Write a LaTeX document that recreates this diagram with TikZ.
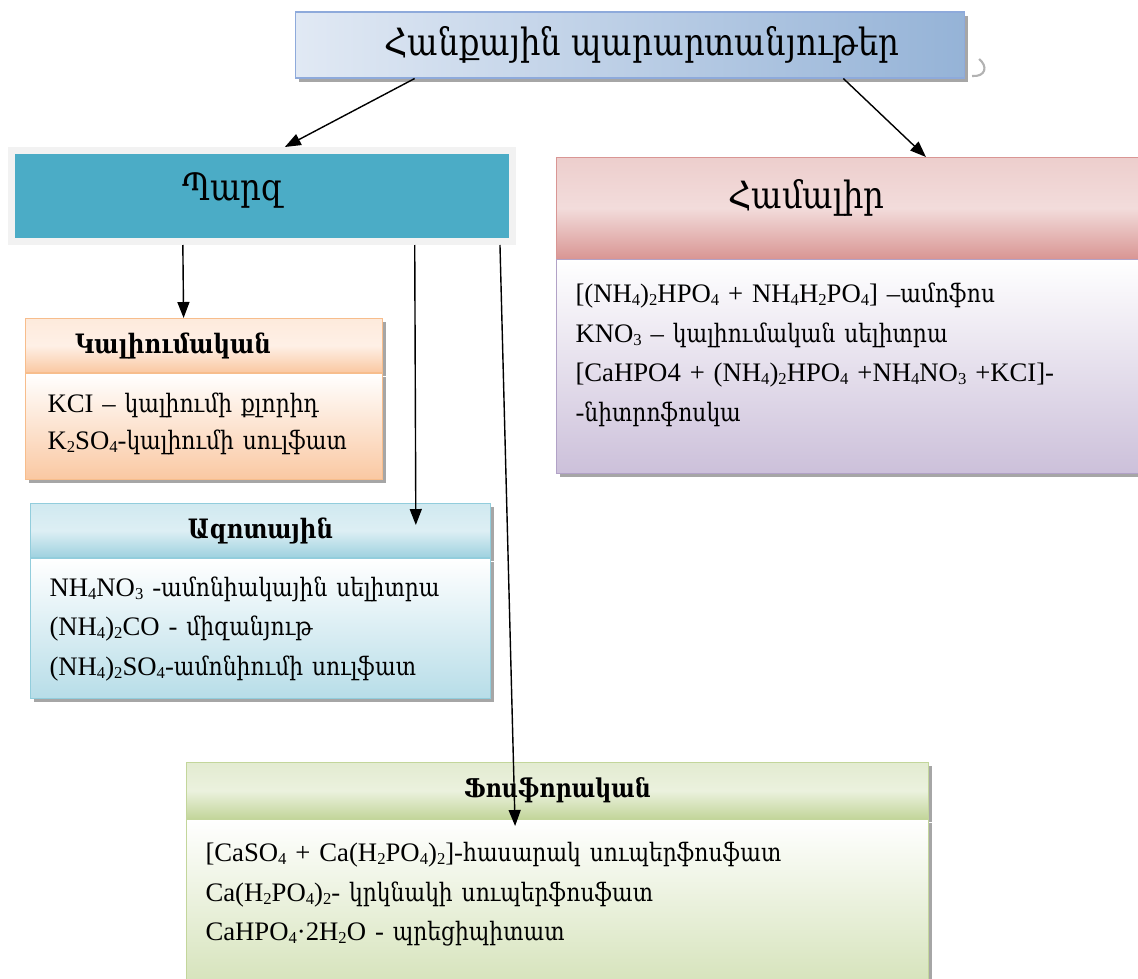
\documentclass[tikz,border=0pt]{standalone}
\usepackage{fontspec}
\setmainfont{Liberation Serif}
\newfontfamily\armfont[Scale=0.95, FakeStretch=0.86]{DejaVu Serif}
\newcommand{\hy}[1]{{\armfont #1}}
\newcommand{\sub}[1]{\raisebox{-0.25ex}{\fontsize{9.5}{9.5}\selectfont #1}}
\usetikzlibrary{arrows.meta,calc,positioning,shadows}

\definecolor{titleleft}{HTML}{E1E9F4}
\definecolor{titleright}{HTML}{95B3D7}
\definecolor{titleline}{HTML}{8EAADB}
\definecolor{parzblue}{HTML}{4BACC6}
\definecolor{hamdark}{HTML}{D99694}
\definecolor{hamlight}{HTML}{F2DCDB}
\definecolor{hambody}{HTML}{CCC0DA}
\definecolor{hamline}{HTML}{B2A2C7}
\definecolor{kaldark}{HTML}{FAC8A2}
\definecolor{kallight}{HTML}{FEF0E6}
\definecolor{kalline}{HTML}{F7BD8C}
\definecolor{azdark}{HTML}{9ED1DF}
\definecolor{azlight}{HTML}{DDEFF4}
\definecolor{azbody}{HTML}{B7DDE8}
\definecolor{azline}{HTML}{92CDDC}
\definecolor{fodark}{HTML}{C3D69B}
\definecolor{folight}{HTML}{EBF1DE}
\definecolor{fobody}{HTML}{D7E4BD}

\begin{document}
\begin{tikzpicture}[x=0.02cm, y=-0.02cm]

    \tikzstyle{boxshadow}=[drop shadow={shadow xshift=0.07cm, shadow yshift=-0.07cm, fill=black!35, opacity=1}]
    \tikzstyle{head}=[rectangle, anchor=north west, inner sep=0pt, line width=0.6pt, boxshadow,
                      font=\bfseries\fontsize{16}{18}\selectfont]
    \tikzstyle{body}=[rectangle, inner ysep=0pt, inner xsep=0.38cm, align=left, line width=0.6pt,
                      top color=white, boxshadow, font=\fontsize{15.2}{22.5}\selectfont]
    \tikzstyle{arrow}=[-{Triangle[length=0.32cm, width=0.24cm]}, line width=0.8pt]

    \useasboundingbox (0,0) rectangle (1138,978);

    % top of the tree
    \node[rectangle, minimum width=13.4cm, minimum height=1.32cm, left color=titleleft,
          right color=titleright, draw=titleline, line width=0.6pt, boxshadow,
          font=\fontsize{22.5}{28}\selectfont] (title) at (630,45) {\hspace*{0.48cm}\hy{Հանքային պարարտանյութեր}};
    \draw[black!30, line width=1.2pt] (979,59) .. controls (988,66) and (986,77) .. (972,76);

    \node[rectangle, minimum width=10.01cm, minimum height=1.82cm, fill=parzblue, draw=black!5,
          line width=0.14cm, boxshadow, text height=0.5cm, text depth=0.34cm,
          font=\fontsize{22.5}{26}\selectfont] (parz) at (262,196) {\hy{Պարզ}\hspace*{1.16cm}};

    \node[head, minimum width=11.8cm, minimum height=2.02cm, top color=hamlight!80!hamdark, bottom color=hamdark,
          middle color=hamlight, draw=hamdark, text height=0.5cm, text depth=0.5cm,
          font=\fontsize{22.5}{26}\selectfont] (hamhead) at (556,157) {\hy{Համալիր}\hspace*{1.8cm}};
    \node[body, below=0pt of hamhead, minimum width=11.8cm, minimum height=4.28cm, text width=11.04cm,
          bottom color=hambody, draw=hamline] (hambody)
          {[(NH\sub4)\sub2HPO\sub4 + NH\sub4H\sub2PO\sub4] –\hy{ամոֆոս}\\
           KNO\sub3 – \hy{կալիումական սելիտրա}\\{}%
           [CaHPO4 + (NH\sub4)\sub2HPO\sub4 +NH\sub4NO\sub3 +KCI]-\\
           -\hy{նիտրոֆոսկա}\rule[-0.58cm]{0pt}{0.1cm}};

    % simple fertilizers
    \node[head, minimum width=7.14cm, minimum height=1.08cm, top color=kallight!85!kaldark, bottom color=kaldark,
          middle color=kallight, draw=kalline] (kalhead) at (25,318) {\hy{Կալիումական}\hspace*{1.24cm}};
    \node[body, below=0pt of kalhead, minimum width=7.14cm, minimum height=2.12cm, text width=6.26cm,
          inner xsep=0.44cm, bottom color=kaldark, draw=kalline, font=\fontsize{15.2}{21}\selectfont] (kalbody)
          {KCI – \hy{կալիումի քլորիդ}\\
           K\sub2SO\sub4-\hy{կալիումի սուլֆատ}\rule[-0.2cm]{0pt}{0.1cm}};

    \node[head, minimum width=9.2cm, minimum height=1.08cm, top color=azlight!80!azdark, bottom color=azdark,
          middle color=azlight, draw=azline] (azhead) at (30,503) {\hy{Ազոտային}};
    \node[body, below=0pt of azhead, minimum width=9.2cm, minimum height=2.8cm, text width=8.44cm,
          bottom color=azbody, draw=azline] (azbody)
          {NH\sub4NO\sub3 -\hy{ամոնիակային սելիտրա}\\
           (NH\sub4)\sub2CO - \hy{միզանյութ}\\
           (NH\sub4)\sub2SO\sub4-\hy{ամոնիումի սուլֆատ}};

    \node[head, minimum width=14.84cm, minimum height=1.12cm, top color=folight!80!fodark, bottom color=fodark,
          middle color=folight, draw=fodark, font=\bfseries\fontsize{15.5}{18}\selectfont] (fohead) at (186,762)
          {\hy{Ֆոսֆորական}};
    \node[body, below=0pt of fohead, minimum width=14.84cm, minimum height=3.2cm, text width=14.08cm,
          bottom color=fobody, draw=fodark] (fobody)
          {[CaSO\sub4 + Ca(H\sub2PO\sub4)\sub2]-\hy{հասարակ սուպերֆոսֆատ}\\
           Ca(H\sub2PO\sub4)\sub2- \hy{կրկնակի սուպերֆոսֆատ}\\
           CaHPO\sub4·2H\sub2O - \hy{պրեցիպիտատ}\rule[-0.32cm]{0pt}{0.1cm}};

    % connectors
    \draw[arrow] ($(title.south west)!0.179!(title.south east)$) -- ($(parz.north west)!0.545!(parz.north east)$);
    \draw[arrow] ($(title.south west)!0.818!(title.south east)$) -- ($(hamhead.north west)!0.626!(hamhead.north east)$);
    \draw[arrow] ($(parz.south west)!0.344!(parz.south east)$)   -- ($(kalhead.north west)!0.443!(kalhead.north east)$);
    \draw[arrow] ($(parz.south west)!0.801!(parz.south east)$)   -- ($(azhead.north west)!0.837!(azhead.north east) + (0,22)$);
    \draw[arrow] ($(parz.south west)!0.969!(parz.south east)$)   -- ($(fohead.north west)!0.443!(fohead.north east) + (0,64)$);

\end{tikzpicture}
\end{document}
